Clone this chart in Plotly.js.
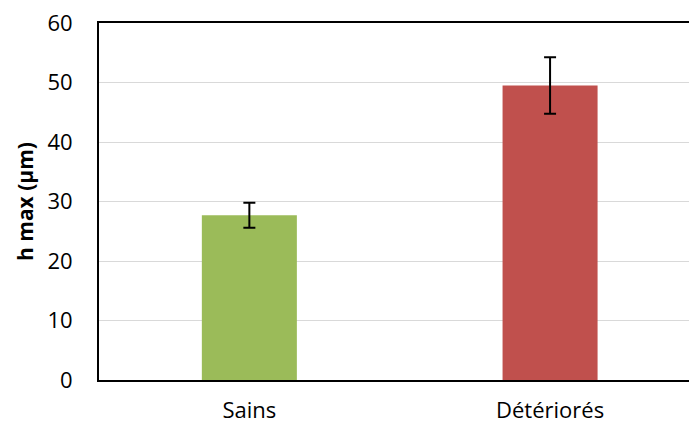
<!DOCTYPE html>
<html>
<head>
<meta charset="utf-8">
<script src="https://cdn.plot.ly/plotly-3.0.1.min.js"></script>
<style>html,body{margin:0;padding:0;background:#fff;}#chart{width:689px;height:425px;}</style>
</head>
<body>
<div id="chart"></div>
<script>
const categories = ["Sains", "Détériorés"];
const values = [27.7, 49.5];
const errors = [2.1, 4.75];
const barColors = ["#9BBB59", "#C0504D"];
const yTicks = [0, 10, 20, 30, 40, 50, 60];

const trace = {
  type: "bar",
  x: [0, 1],
  y: values,
  width: 0.316,
  marker: {color: barColors},
  error_y: {type: "data", array: errors, visible: true, color: "#000000", thickness: 2, width: 6},
  hoverinfo: "none"
};

const font = {family: "'Open Sans', 'Liberation Sans', sans-serif", size: 22, color: "#000000"};

const layout = {
  width: 689, height: 425,
  margin: {l: 99, r: 0, t: 23, b: 45},
  paper_bgcolor: "#ffffff", plot_bgcolor: "#ffffff",
  showlegend: false,
  font: font,
  xaxis: {
    range: [-0.5, 1.462],
    tickmode: "array", tickvals: [0, 1], ticktext: categories,
    showgrid: false, zeroline: false,
    showline: true, linecolor: "#000000", linewidth: 2, mirror: true,
    ticks: "", ticklabelstandoff: 10,
    tickfont: font
  },
  yaxis: {
    range: [0, 60],
    tickmode: "array", tickvals: yTicks,
    showgrid: true, gridcolor: "#d9d9d9", gridwidth: 1,
    zeroline: false,
    showline: true, linecolor: "#000000", linewidth: 2,
    ticks: "", ticklabelstandoff: 20,
    tickfont: font,
    title: {text: "<b>h max (µm)</b>", font: {family: font.family, size: 21, color: "#000000"}, standoff: 8}
  }
};

Plotly.newPlot("chart", [trace], layout, {displayModeBar: false, staticPlot: true});
</script>
</body>
</html>
